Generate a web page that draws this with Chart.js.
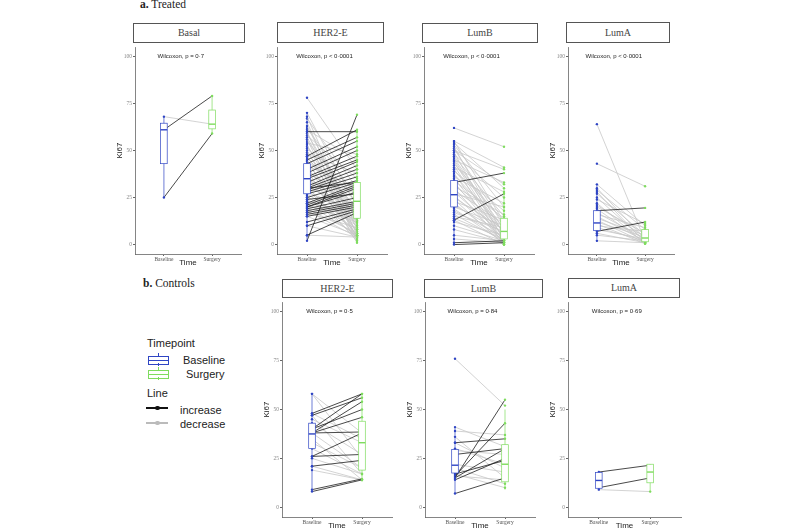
<!DOCTYPE html>
<html>
<head>
<meta charset="utf-8">
<script src="https://cdn.jsdelivr.net/npm/chart.js@4.4.1/dist/chart.umd.min.js"></script>
<style>
  body { margin: 0; width: 800px; height: 530px; position: relative; overflow: hidden; background: #fff; }
  canvas { position: absolute; }
  .t { position: absolute; white-space: nowrap; color: #222; }
  .hd { font-family: "Liberation Serif", serif; font-size: 11.5px; }
  .strip { position: absolute; box-sizing: border-box; border: 1px solid #555; background: #fff;
           text-align: center; font-family: "Liberation Serif", serif; font-size: 10px; color: #444; }
  .lg { font-family: "Liberation Sans", Arial, sans-serif; font-size: 11px; color: #222; }
  .key { position: absolute; box-sizing: border-box; width: 21px; height: 9px; border: 1.5px solid; background: #fff; }
  .key i { position: absolute; left: 0; right: 0; top: 2.5px; height: 1.5px; }
  .key b { position: absolute; left: 8.5px; width: 1.5px; height: 3px; }
  .ln { position: absolute; width: 22px; height: 1.5px; }
  .ln i { position: absolute; left: 9px; top: -1.5px; width: 4.5px; height: 4.5px; border-radius: 50%; }
</style>
</head>
<body>

<div class="t hd" style="left:140px;top:-2px;"><b>a.</b> Treated</div>
<div class="t hd" style="left:143px;top:277px;"><b>b.</b> Controls</div>

<div class="t lg" style="left:147px;top:337px;">Timepoint</div>
<div class="key" style="left:148px;top:356px;border-color:#2f45c4;"><i style="background:#2f45c4"></i><b style="top:-4px;background:#2f45c4"></b><b style="top:6px;background:#2f45c4"></b></div>
<div class="t lg" style="left:183px;top:354px;">Baseline</div>
<div class="key" style="left:148px;top:370px;border-color:#7fdc5f;"><i style="background:#7fdc5f"></i><b style="top:-4px;background:#7fdc5f"></b><b style="top:6px;background:#7fdc5f"></b></div>
<div class="t lg" style="left:186px;top:368px;">Surgery</div>
<div class="t lg" style="left:147px;top:387px;">Line</div>
<div class="ln" style="left:146px;top:407px;background:#111;"><i style="background:#111"></i></div>
<div class="t lg" style="left:180px;top:404px;">increase</div>
<div class="ln" style="left:146px;top:422px;background:#bbb;"><i style="background:#bbb"></i></div>
<div class="t lg" style="left:180px;top:418px;">decrease</div>

<script>
var timeLabels = ['Baseline', 'Surgery'];
var yTicks = [0, 25, 50, 75, 100];

// treated, Basal
var trBasalBase = [25, 61, 68];
var trBasalSurg = [59, 79, 64];
var trBasalBox = [[25, 43, 61, 64.5, 68], [59, 61.5, 64, 71.5, 79]];  // lo, q1, med, q3, hi

// treated, HER2-E
var trHerBase = [2, 60, 47, 45, 43, 40, 38, 36, 35, 33, 31, 30, 29, 28, 27, 25, 22, 21, 20, 20, 19, 18, 17, 16, 15, 12, 10, 5, 30, 24,
  78, 70, 68, 67, 65, 63, 62, 61, 60, 59, 58, 57, 56, 55, 54, 53, 52, 51, 50, 49, 48, 47, 46, 45, 44, 43, 42, 41, 40, 39,
  38, 37, 36, 35, 34, 33, 32, 31, 30, 29, 28, 27, 26, 25, 24, 23, 22, 21, 20, 19, 18, 17, 15, 10, 5];
var trHerSurg = [69, 60, 61, 57, 55, 52, 50, 47, 45, 44, 42, 40, 38, 36, 34, 33, 32, 31, 30, 28, 25, 23, 22, 21, 20, 19, 18, 17, 33, 27,
  40, 20, 8, 30, 5, 12, 25, 45, 3, 15, 35, 10, 2, 22, 48, 6, 18, 28, 4, 14, 38, 9, 20, 1, 26, 12, 30, 7, 16, 3,
  24, 11, 5, 19, 8, 29, 14, 2, 21, 6, 17, 10, 4, 13, 8, 15, 5, 12, 18, 6, 4, 9, 5, 4, 4];
var trHerBox = [[2, 27, 35, 43, 70], [1, 14, 23, 33, 61]];

// treated, LumB
var trLumBBase = [62, 55, 54, 53, 52, 51, 50, 49, 48, 47, 46, 45, 44, 43, 42, 41, 40, 39, 38, 37, 36, 35, 34, 33, 32, 31,
  30, 29, 28, 27, 26, 25, 24, 23, 22, 21, 20, 19, 18, 17, 16, 15, 14, 13, 12, 10, 8, 5, 3, 55, 50, 45, 33, 13, 0, 1];
var trLumBSurg = [52, 41, 30, 20, 5, 10, 40, 2, 25, 15, 8, 33, 3, 12, 1, 28, 6, 18, 0, 9, 22, 4, 14, 2, 7, 16,
  1, 11, 5, 20, 3, 8, 0, 13, 2, 6, 10, 1, 4, 7, 2, 9, 3, 0, 5, 2, 1, 2, 1, 12, 32, 6, 38, 27, 1, 2];
var trLumBBox = [[0, 20, 26.5, 34, 55], [0, 3, 7, 14, 30]];

// treated, LumA
var trLumABase = [64, 43, 18, 7, 32, 30, 29, 28, 27, 25, 24, 22, 21, 20, 19, 17, 16, 15, 14, 13, 12, 11, 10, 9, 8, 6, 5, 2];
var trLumASurg = [2, 31, 19.5, 12, 10, 3, 8, 1, 5, 2, 11, 0.5, 4, 6, 1, 3, 9, 2, 5, 1, 4, 0.5, 7, 2, 3, 1, 2, 1];
var trLumABox = [[1.5, 7.5, 11.5, 18, 32], [0, 1.5, 3.5, 8, 12]];

// controls, HER2-E
var coHerBase = [8, 9, 21, 26, 26, 38, 38, 40, 38, 47, 48, 40, 58, 58, 48, 47, 43, 38, 35, 30, 25, 21, 33, 45, 19];
var coHerSurg = [14, 14.5, 24, 27, 38, 38.5, 46, 50, 54, 56, 58, 58, 38, 25, 35, 17, 27, 20, 14, 17, 17, 14, 20, 33, 14];
var coHerBox = [[8, 30, 37.5, 43, 58], [13, 19, 33, 44, 58]];

// controls, LumB
var coLumBBase = [15, 16, 7, 14, 15, 33, 27, 17, 76, 41, 39, 30, 33, 22, 17, 36, 29, 20, 16];
var coLumBSurg = [55, 43, 15, 25, 30, 35, 30, 24, 52, 31, 37, 22, 20, 18, 10, 15, 27, 12, 14];
var coLumBBox = [[7, 17.5, 21.5, 29.5, 41], [9, 13, 22, 32, 50]];

// controls, LumA
var coLumABase = [18, 10, 9];
var coLumASurg = [21.5, 15, 8];
var coLumABox = [[9, 9.7, 13.7, 17.8, 18], [7.6, 12.5, 18, 22, 22]];

var stripNames = ['Basal', 'HER2-E', 'LumB', 'LumA', 'HER2-E', 'LumB', 'LumA'];
var pLabels = ['Wilcoxon, p = 0\u00b77', 'Wilcoxon, p < 0\u00b70001', 'Wilcoxon, p < 0\u00b70001', 'Wilcoxon, p < 0\u00b70001',
  'Wilcoxon, p = 0\u00b75', 'Wilcoxon, p = 0\u00b784', 'Wilcoxon, p = 0\u00b769'];

var BLUE = '#2f45c4';
var GREEN = '#7fdc5f';
var YW = 20, XH = 14;

var boxPlugin = {
  id: 'boxes',
  afterDatasetsDraw: function(chart, args, opts) {
    var ctx = chart.ctx, xs = chart.scales.x, ys = chart.scales.y;
    var hw = 3.3;
    ctx.save();
    opts.stats.forEach(function(s, i) {
      var col = i === 0 ? BLUE : GREEN;
      var cx = xs.getPixelForValue(i + 1);
      ctx.strokeStyle = col;
      ctx.lineWidth = 0.7;
      ctx.beginPath();
      ctx.moveTo(cx, ys.getPixelForValue(s[0]));
      ctx.lineTo(cx, ys.getPixelForValue(s[4]));
      ctx.stroke();
      var top = ys.getPixelForValue(s[3]), bot = ys.getPixelForValue(s[1]);
      ctx.fillStyle = '#fff';
      ctx.fillRect(cx - hw, top, hw * 2, bot - top);
      ctx.strokeRect(cx - hw, top, hw * 2, bot - top);
      ctx.lineWidth = 1.4;
      ctx.beginPath();
      ctx.moveTo(cx - hw, ys.getPixelForValue(s[2]));
      ctx.lineTo(cx + hw, ys.getPixelForValue(s[2]));
      ctx.stroke();
    });
    ctx.fillStyle = '#222';
    ctx.font = '6px "Liberation Sans", Arial, sans-serif';
    ctx.textAlign = 'center';
    ctx.textBaseline = 'middle';
    ctx.fillText(opts.label, xs.getPixelForValue(1.35), ys.getPixelForValue(100));
    ctx.restore();
  }
};

function makePanel(k, base, surg, box, area, strip) {
  var cv = document.createElement('canvas');
  var w = area[1] - area[0] + YW, h = area[3] - area[2] + XH;
  cv.width = w; cv.height = h;
  cv.style.left = (area[0] - YW) + 'px';
  cv.style.top = area[2] + 'px';
  document.body.appendChild(cv);

  var sd = document.createElement('div');
  sd.className = 'strip';
  sd.style.left = strip[0] + 'px';
  sd.style.width = (strip[1] - strip[0]) + 'px';
  sd.style.top = strip[2] + 'px';
  sd.style.height = (strip[3] - strip[2]) + 'px';
  sd.style.lineHeight = (strip[3] - strip[2] - 2) + 'px';
  sd.textContent = stripNames[k];
  document.body.appendChild(sd);

  var sets = base.map(function(b, i) {
    var up = surg[i] >= b;
    return {
      data: [{x: 1, y: b}, {x: 2, y: surg[i]}],
      borderColor: up ? '#1c1c1c' : '#c8c8c8',
      borderWidth: 0.8,
      pointRadius: 1.2,
      pointBorderWidth: 0,
      pointBackgroundColor: [BLUE, GREEN],
      order: up ? 0 : 1
    };
  });

  new Chart(cv.getContext('2d'), {
    type: 'line',
    data: { datasets: sets },
    plugins: [boxPlugin],
    options: {
      responsive: false,
      animation: false,
      events: [],
      layout: { padding: 0 },
      plugins: {
        legend: { display: false },
        tooltip: { enabled: false },
        boxes: { stats: box, label: pLabels[k] }
      },
      scales: {
        x: {
          type: 'linear', min: 0.4, max: 2.6,
          afterBuildTicks: function(a) { a.ticks = [{value: 1}, {value: 2}]; },
          afterFit: function(a) { a.height = XH; a.paddingLeft = 0; a.paddingRight = 0; },
          grid: { display: true, drawOnChartArea: false, drawTicks: true, tickLength: 2, color: '#666' },
          border: { display: true, color: '#666', width: 0.8 },
          ticks: {
            autoSkip: false, maxRotation: 0, padding: 0, color: '#555',
            font: { family: 'Liberation Serif', size: 5.5 },
            callback: function(v) { return timeLabels[Math.round(v) - 1]; }
          },
          title: { display: true, text: 'Time', padding: 0, color: '#222',
                   font: { family: 'Liberation Sans', size: 8 } }
        },
        y: {
          type: 'linear', min: -5, max: 105,
          afterBuildTicks: function(a) { a.ticks = yTicks.map(function(v) { return {value: v}; }); },
          afterFit: function(a) { a.width = YW; a.paddingTop = 0; a.paddingBottom = 0; },
          grid: { display: true, drawOnChartArea: false, drawTicks: true, tickLength: 2, color: '#666' },
          border: { display: true, color: '#666', width: 0.8 },
          ticks: { padding: 1, color: '#888', font: { family: 'Liberation Serif', size: 5.5 } },
          title: { display: true, text: 'Ki67', padding: 0, color: '#222',
                   font: { family: 'Liberation Sans', size: 8 } }
        }
      }
    }
  });
}

// chart area [left, right, top, bottom], strip box [left, right, top, bottom]
makePanel(0, trBasalBase, trBasalSurg, trBasalBox, [135, 245, 43, 254], [133, 245, 23, 43]);
makePanel(1, trHerBase, trHerSurg, trHerBox, [277, 391, 43, 254], [277, 384, 22, 43]);
makePanel(2, trLumBBase, trLumBSurg, trLumBBox, [424, 538, 43, 254], [422, 538, 23, 43]);
makePanel(3, trLumABase, trLumASurg, trLumABox, [568, 678, 43, 254], [566, 670, 22, 43]);
makePanel(4, coHerBase, coHerSurg, coHerBox, [282, 396, 298, 517], [282, 393, 279, 298]);
makePanel(5, coLumBBase, coLumBSurg, coLumBBox, [425, 539, 298, 517], [424, 543, 279, 298]);
makePanel(6, coLumABase, coLumASurg, coLumABox, [568, 685, 298, 517], [568, 680, 278, 298]);
</script>
</body>
</html>
